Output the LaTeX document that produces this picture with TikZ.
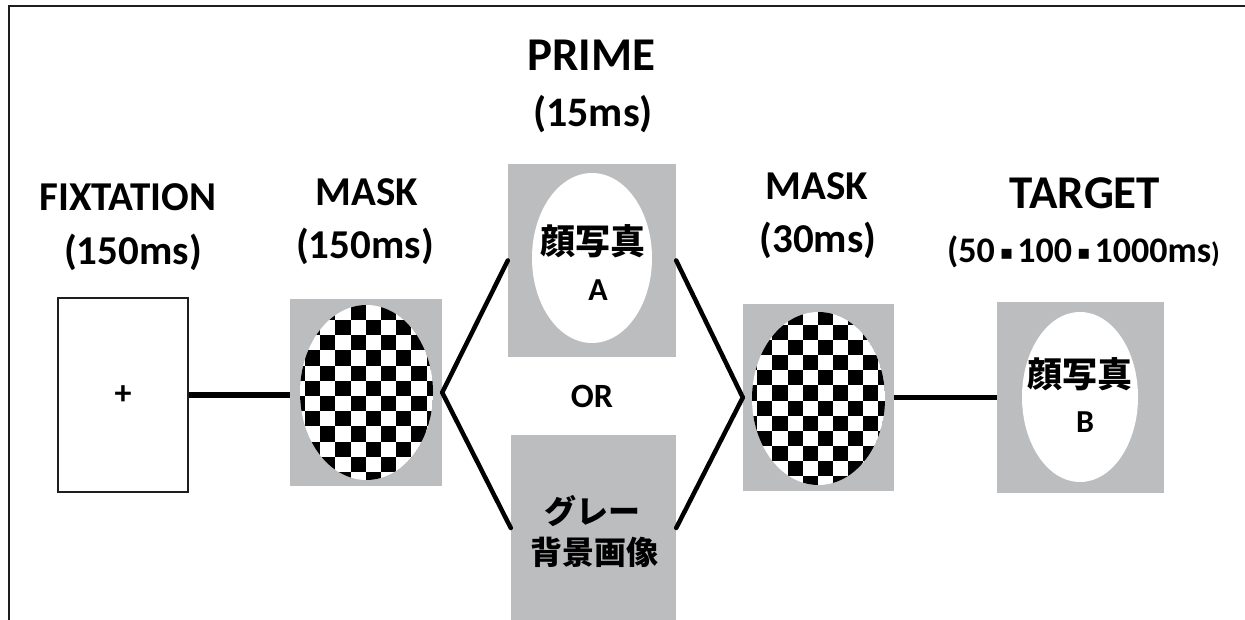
\documentclass[tikz,border=0pt]{standalone}
\usepackage{fontspec}
\setmainfont{Carlito}
\newfontfamily\cjk{Noto Sans CJK JP}
\newfontfamily\dejavu{DejaVu Sans}
\usetikzlibrary{shapes.geometric}
\definecolor{boxgray}{RGB}{188,189,191}
\definecolor{framegray}{RGB}{30,30,30}
\tikzset{
  graybox/.style={fill=boxgray, draw=none, inner sep=0pt},
  conn/.style={line width=4.5pt, black},
  lbl/.style={anchor=base, inner sep=0pt, font=\bfseries},
  face/.style={fill=white, draw=none},
}
\newcommand{\sqdot}{\hspace{5pt}\raisebox{3.5pt}{\dejavu\fontsize{20}{20}\selectfont ▪}\hspace{4pt}}
\begin{document}
\begin{tikzpicture}[x=1pt,y=-1pt]
\useasboundingbox (0,0) rectangle (1245,620);
% frame
\draw[line width=2pt, framegray] (9,630) -- (9,6) -- (1250,6);

% fixation
\node[draw=framegray, line width=1.5pt, minimum width=130pt, minimum height=194pt, inner sep=0pt,
      font=\bfseries\fontsize{34}{34}\selectfont] (fix) at (123,395) {+};

% mask 1
\node[graybox, minimum width=152pt, minimum height=187pt] (mask1) at (366,392.5) {};
\begin{scope}
  \clip (366.5,392.5) ellipse (66.5 and 87.5);
  \fill[white] (366.5,392.5) ellipse (66.5 and 87.5);
  \foreach \i in {-1,...,9}{
    \foreach \j in {-2,...,11}{
      \pgfmathtruncatemacro\p{mod(\i+\j+40,2)}
      \ifnum\p=0
        \fill[black] ({305+15.2*\i},{320+15.2*\j}) rectangle ++(15.2,15.2);
      \fi
    }
  }
\end{scope}

% prime A
\node[graybox, minimum width=168pt, minimum height=193pt] (primeA) at (592,260.5) {};
\fill[face] (592,258) ellipse (60 and 85);
\node[anchor=base, inner sep=0pt, font=\cjk\bfseries\fontsize{35}{35}\selectfont] (kaoA) at (592.5,255) {顔写真};
\node[lbl, font=\bfseries\fontsize{32}{32}\selectfont] (A) at (598,301) {A};

% prime B (gray background)
\node[graybox, minimum width=165pt, minimum height=192pt] (primeB) at (593.5,531) {};
\node[anchor=base, inner sep=0pt, font=\cjk\bfseries\fontsize{32}{32}\selectfont] (gray1) at (592,523) {グレー};
\node[anchor=base, inner sep=0pt, font=\cjk\bfseries\fontsize{32}{32}\selectfont] (gray2) at (594,564) {背景画像};

% OR
\node[lbl, font=\bfseries\fontsize{34}{34}\selectfont] (or) at (592,407) {OR};

% mask 2
\node[graybox, minimum width=151pt, minimum height=187pt] (mask2) at (818.5,397.5) {};
\begin{scope}
  \clip (818.5,398.5) ellipse (66.5 and 86.5);
  \fill[white] (818.5,398.5) ellipse (66.5 and 86.5);
  \foreach \i in {-1,...,9}{
    \foreach \j in {-2,...,11}{
      \pgfmathtruncatemacro\p{mod(\i+\j+40,2)}
      \ifnum\p=1
        \fill[black] ({757.3+15.1*\i},{325+15.1*\j}) rectangle ++(15.1,15.1);
      \fi
    }
  }
\end{scope}

% target
\node[graybox, minimum width=167pt, minimum height=191pt] (target) at (1080.5,397.5) {};
\fill[face] (1080,397) ellipse (58 and 85);
\node[anchor=base, inner sep=0pt, font=\cjk\bfseries\fontsize{35}{35}\selectfont] (kaoB) at (1080,387) {顔写真};
\node[lbl, font=\bfseries\fontsize{32}{32}\selectfont] (B) at (1085,432) {B};

% connectors
\draw[conn, line width=5.5pt] (fix.east) -- (fix.east -| mask1.west);
\draw[conn, line cap=round] (mask1.east) -- (primeA.west);
\draw[conn, line cap=round] (mask1.east) -- ([yshift=3pt]primeB.west);
\draw[conn, line cap=round] (primeA.east) -- (mask2.west);
\draw[conn, line cap=round] ([yshift=3pt]primeB.east) -- (mask2.west);
\draw[conn, line width=5.5pt] (mask2.east) -- (mask2.east -| target.west);

% labels
\node[lbl, font=\bfseries\fontsize{41}{41}\selectfont] (l1) at (128,211) {FIXTATION};
\node[lbl, font=\bfseries\fontsize{41}{41}\selectfont] (l1t) at (133,265) {(150ms)};
\node[lbl, font=\bfseries\fontsize{41}{41}\selectfont] (l2) at (367,206) {MASK};
\node[lbl, font=\bfseries\fontsize{41}{41}\selectfont] (l2t) at (365,259) {(150ms)};
\node[lbl, font=\bfseries\fontsize{47}{47}\selectfont] (l3) at (591,71) {PRIME};
\node[lbl, font=\bfseries\fontsize{42}{42}\selectfont] (l3t) at (593,127) {(15ms)};
\node[lbl, font=\bfseries\fontsize{41}{41}\selectfont] (l4) at (817,200) {MASK};
\node[lbl, font=\bfseries\fontsize{41}{41}\selectfont] (l4t) at (818,253) {(30ms)};
\node[lbl, font=\bfseries\fontsize{47}{47}\selectfont] (l5) at (1085,209) {TARGET};
\node[lbl, font=\bfseries\fontsize{36}{36}\selectfont] (l5t) at (1083.5,263)
  {(50\sqdot 100\sqdot 1000ms{\fontsize{28}{28}\selectfont )}};
\end{tikzpicture}
\end{document}
